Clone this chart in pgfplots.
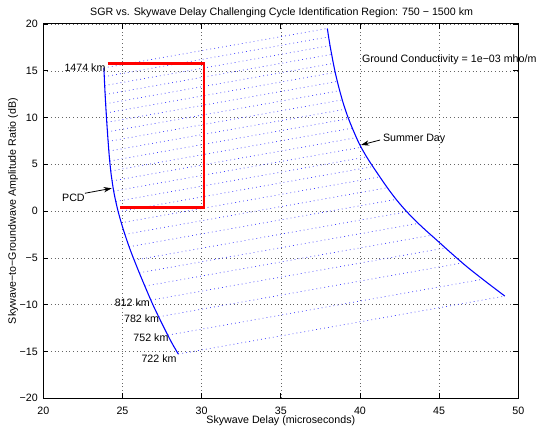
\documentclass[border=0pt]{standalone}
\usepackage{fontspec}
\setmainfont{Liberation Sans}
\usepackage{pgfplots}
\pgfplotsset{compat=1.18}
\usetikzlibrary{arrows.meta}

\definecolor{mblue}{RGB}{0,0,255}
\definecolor{mred}{RGB}{255,0,0}

\begin{document}
\begin{tikzpicture}[font=\fontsize{8}{9.6}\selectfont,
  lbl/.style={inner sep=0pt},
  arr/.style={-{Stealth[length=6pt,width=4pt]}, line width=0.6pt, black}]
\begin{axis}[
  scale only axis,
  width=356.25pt, height=280.7pt,
  xmin=20, xmax=50, ymin=-20, ymax=20,
  xtick={20,25,...,50},
  ytick={-20,-15,...,20},
  xticklabels={20,25,30,35,40,45,50},
  yticklabels={−20,−15,−10,−5,0,5,10,15,20},
  xticklabel style={yshift=-2.8pt},
  yticklabel style={xshift=-0.6pt},
  major tick length=3.75pt,
  tick style={black, line width=0.5pt},
  axis line style={black, line width=0.75pt},
  grid=major,
  grid style={black!60, line width=0.4pt, dash pattern=on 0.6pt off 2.2pt},
  clip=false,
]

% constant-distance lines, PCD -> Summer Day
\addplot[mblue!75, line width=0.55pt, dash pattern=on 0.6pt off 2.4pt, unbounded coords=jump] table {
x y
28.53 -15.28
49.15 -9.08
nan nan
27.88 -13.25
47.77 -7.28
nan nan
27.30 -11.29
46.49 -5.53
nan nan
26.81 -9.51
45.38 -3.94
nan nan
26.42 -8.01
44.48 -2.59
nan nan
26.07 -6.59
43.66 -1.32
nan nan
25.75 -5.24
42.94 -0.08
nan nan
25.42 -3.81
42.30 1.26
nan nan
25.14 -2.49
41.79 2.52
nan nan
24.91 -1.25
41.31 3.68
nan nan
24.73 -0.07
40.85 4.77
nan nan
24.59 1.04
40.45 5.80
nan nan
24.45 2.14
40.07 6.82
nan nan
24.35 3.23
39.77 7.85
nan nan
24.26 4.29
39.49 8.86
nan nan
24.20 5.36
39.27 9.88
nan nan
24.14 6.41
39.07 10.89
nan nan
24.09 7.45
38.89 11.89
nan nan
24.05 8.47
38.72 12.87
nan nan
24.01 9.49
38.58 13.86
nan nan
23.97 10.49
38.45 14.83
nan nan
23.94 11.47
38.33 15.79
nan nan
23.91 12.46
38.20 16.75
nan nan
23.88 13.42
38.11 17.69
nan nan
23.85 14.37
38.02 18.62
nan nan
23.83 15.31
37.94 19.52
};

% PCD
\addplot[mblue, line width=0.8pt, smooth, tension=0.5] coordinates {
(23.83,15.31) (23.86,14) (23.92,12) (23.99,10) (24.07,8) (24.16,6)
(24.28,4) (24.46,2) (24.72,0) (25.06,-2) (25.46,-4) (25.92,-6)
(26.41,-8) (26.92,-10) (27.49,-12) (28.09,-14) (28.53,-15.28)
};

% Summer Day
\addplot[mblue, line width=0.8pt, smooth, tension=0.5] coordinates {
(37.94,19.52) (38.03,18.5) (38.13,17.5) (38.24,16.5) (38.32,15.78)
(38.48,14.5) (38.70,13) (38.95,11.5) (39.25,10) (39.61,8.5)
(40.00,7.05) (40.53,5.5) (41.40,3.3) (41.86,2.2) (42.32,1.18)
(42.87,0.1) (43.47,-0.96) (44.12,-2) (44.85,-3.1) (45.77,-4.5)
(46.76,-5.95) (47.92,-7.5) (49.15,-9.08)
};

% challenging region
\addplot[mred, line width=1.6pt] coordinates {
(24.07,15.78) (30.15,15.78) (30.15,0.39) (24.85,0.39)
};

\node[lbl, anchor=east] at (axis cs:23.94,15.33) {1474 km};
\node[lbl, anchor=east] at (axis cs:26.74,-9.74) {812 km};
\node[lbl, anchor=east] at (axis cs:27.33,-11.53) {782 km};
\node[lbl, anchor=east] at (axis cs:27.92,-13.48) {752 km};
\node[lbl, anchor=east] at (axis cs:28.43,-15.73) {722 km};

\node[lbl, anchor=east] at (axis cs:22.63,1.37) {PCD};
\draw[arr] (axis cs:22.63,1.91) -- (axis cs:24.32,2.44);
\node[lbl, anchor=west] at (axis cs:41.44,7.68) {Summer Day};
\draw[arr] (axis cs:41.27,7.60) -- (axis cs:40.07,7.07);

\node[lbl, anchor=west] at (axis cs:40.12,16.23) {Ground Conductivity = 1e−03 mho/m};

\node[lbl] at (axis cs:35.05,21.25) {SGR vs. Skywave Delay Challenging Cycle Identification Region: 750 − 1500 km};
\node[lbl] at (axis cs:35,-22.45) {Skywave Delay (microseconds)};
\node[lbl, rotate=90] at (axis cs:18.09,0) {Skywave−to−Groundwave Amplitude Ratio (dB)};

\coordinate (bbsw) at (axis cs:17.265,-23.28);
\coordinate (bbne) at (axis cs:51.371,22.565);
\end{axis}
\pgfresetboundingbox
\path[use as bounding box] (bbsw) rectangle (bbne);
\end{tikzpicture}
\end{document}
